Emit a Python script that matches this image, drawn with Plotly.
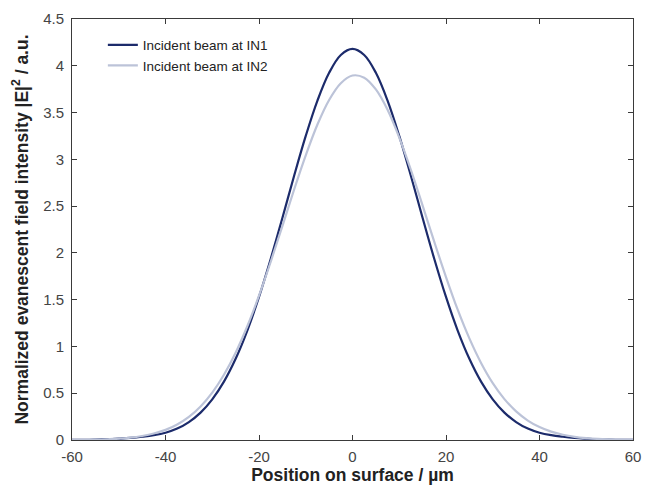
import plotly.graph_objects as go

# Position on surface (µm)
x_pos = [-60, -57.5, -55, -52.5, -50, -47.5, -45, -42.5, -40, -37.5, -35, -32.5, -30,
         -27.5, -25, -22.5, -20, -17.5, -15, -12.5, -10, -7.5, -5, -2.5, 0,
         2.5, 5, 7.5, 10, 12.5, 15, 17.5, 20, 22.5, 25, 27.5, 30,
         32.5, 35, 37.5, 40, 42.5, 45, 47.5, 50, 52.5, 55, 57.5, 60]

# Normalized evanescent field intensity, incident beam at IN1
in1 = [0.001, 0.002, 0.004, 0.008, 0.014, 0.022, 0.035, 0.052, 0.078, 0.122, 0.192, 0.293, 0.435,
       0.624, 0.868, 1.170, 1.529, 1.935, 2.373, 2.822, 3.250, 3.628, 3.925, 4.115, 4.180,
       4.115, 3.925, 3.628, 3.250, 2.822, 2.373, 1.935, 1.529, 1.170, 0.868, 0.624, 0.435,
       0.293, 0.192, 0.122, 0.078, 0.052, 0.035, 0.022, 0.014, 0.008, 0.004, 0.002, 0.001]

# Normalized evanescent field intensity, incident beam at IN2
in2 = [0.001, 0.002, 0.004, 0.008, 0.015, 0.025, 0.043, 0.069, 0.108, 0.166, 0.247, 0.359, 0.507,
       0.698, 0.933, 1.216, 1.542, 1.905, 2.287, 2.675, 3.042, 3.372, 3.635, 3.814, 3.896,
       3.873, 3.747, 3.529, 3.233, 2.886, 2.505, 2.117, 1.742, 1.393, 1.086, 0.824, 0.608,
       0.437, 0.306, 0.208, 0.138, 0.089, 0.056, 0.034, 0.020, 0.011, 0.006, 0.003, 0.0015]

x_ticks = [-60, -40, -20, 0, 20, 40, 60]
x_tick_labels = ["-60", "-40", "-20", "0", "20", "40", "60"]
y_ticks = [0, 0.5, 1, 1.5, 2, 2.5, 3, 3.5, 4, 4.5]
y_tick_labels = ["0", "0.5", "1", "1.5", "2", "2.5", "3", "3.5", "4", "4.5"]

fig = go.Figure()
fig.add_trace(go.Scatter(x=x_pos, y=in1, mode="lines", name="Incident beam at IN1",
                         line=dict(color="#1c2b6b", width=2.2, shape="spline", smoothing=1.0)))
fig.add_trace(go.Scatter(x=x_pos, y=in2, mode="lines", name="Incident beam at IN2",
                         line=dict(color="#bcc3d8", width=2.2, shape="spline", smoothing=1.0)))

axis_common = dict(showgrid=False, zeroline=False, showline=True, mirror="ticks",
                   linecolor="#3a3a3a", linewidth=1, ticks="inside", ticklen=5,
                   tickcolor="#3a3a3a", automargin=False,
                   tickfont=dict(family="Liberation Sans, Arial", size=15, color="#444"))

fig.update_layout(
    width=645, height=491,
    margin=dict(l=72, r=12, t=19, b=51),
    paper_bgcolor="white", plot_bgcolor="white",
    font=dict(family="Liberation Sans, Arial", color="#222"),
    xaxis=dict(range=[-60, 60], tickvals=x_ticks, ticktext=x_tick_labels, ticklabelstandoff=3,
               title=dict(text="<b>Position on surface / µm</b>", font=dict(size=17.5, color="#222"), standoff=0),
               **axis_common),
    yaxis=dict(range=[0, 4.5], tickvals=y_ticks, ticktext=y_tick_labels, ticklabelstandoff=4,
               title=dict(text="<b>Normalized evanescent field intensity |E|<sup>2</sup> / a.u.</b>",
                          font=dict(size=17.5, color="#222"), standoff=10),
               **axis_common),
    legend=dict(x=0.055, y=0.975, xanchor="left", yanchor="top", bgcolor="rgba(0,0,0,0)",
                font=dict(size=13.5, color="#222"), tracegroupgap=0, itemwidth=30),
    showlegend=True,
)

fig.write_html("out.html")
